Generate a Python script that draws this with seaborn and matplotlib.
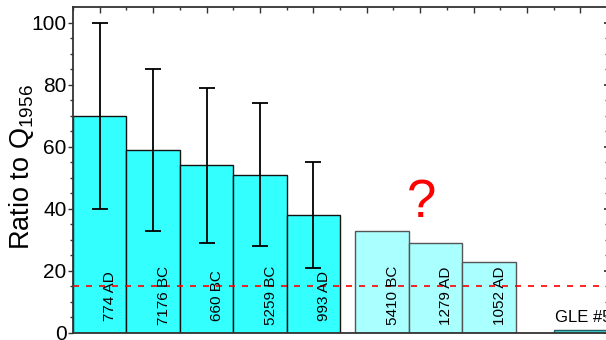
import matplotlib
matplotlib.use("Agg")
import matplotlib.pyplot as plt
import seaborn as sns
import pandas as pd

# ---- data ----
event_labels = ["774 AD", "7176 BC", "660 BC", "5259 BC", "993 AD",
                "5410 BC", "1279 AD", "1052 AD", "GLE #5"]
ratios = [70, 59, 54, 51, 38, 33, 29, 23, 1]
ratio_errors = [30, 26, 25, 23, 17, None, None, None, None]
groups = ["measured"] * 5 + ["candidate"] * 3 + ["gle"]
positions = [1, 2, 3, 4, 5, 6.29, 7.29, 8.29, 10]
threshold = 15

sns.set_theme(style="ticks", rc={"text.color": "black",
                                 "axes.labelcolor": "black",
                                 "xtick.color": "#222222",
                                 "ytick.color": "#222222"})
plt.rcParams["font.family"] = ["Liberation Sans", "DejaVu Sans"]
plt.rcParams["mathtext.fontset"] = "custom"
plt.rcParams["mathtext.rm"] = "Liberation Sans"
plt.rcParams["mathtext.it"] = "Liberation Sans"

df = pd.DataFrame({"pos": positions, "ratio": ratios, "label": event_labels,
                   "err": ratio_errors, "group": groups})

fig = plt.figure(figsize=(6.06, 3.40), dpi=100)
ax = fig.add_axes([73 / 606, 7 / 340, 534 / 606, 326 / 340])

styles = {
    "measured": dict(color="#33FFFF", edgecolor="#111111"),
    "candidate": dict(color="#AAFFFF", edgecolor="#555555"),
    "gle": dict(color="#40D8D8", edgecolor="#1F5F5F"),
}
for g, st in styles.items():
    sub = df[df["group"] == g]
    sns.barplot(data=sub, x="pos", y="ratio", native_scale=True, width=1.0,
                errorbar=None, saturation=1, linewidth=1.0, ax=ax, zorder=2,
                **st)

meas = df[df["group"] == "measured"]
ax.errorbar(meas["pos"], meas["ratio"], yerr=meas["err"].astype(float),
            fmt="none", ecolor="black", elinewidth=1.3, capsize=5.5,
            capthick=1.3, zorder=4)

ax.axhline(threshold, color="red", lw=1.2, dashes=(3.6, 4.2), zorder=3)

for _, r in df[df["group"] != "gle"].iterrows():
    ax.text(r["pos"] + 0.2, 12, r["label"], rotation=90, ha="center",
            va="center", fontsize=11, color="black", zorder=5)

gle = df[df["group"] == "gle"].iloc[0]
ax.text(gle["pos"] - 0.48, 3.5, gle["label"], ha="left", va="baseline",
        fontsize=12, color="black", zorder=5)

ax.text(7.02, 42, "?", color="red", fontsize=38, ha="center", va="center",
        zorder=5)

ax.set_xlim(0.5, 10.5)
ax.set_ylim(0, 105)
ax.set_xlabel("")
ax.set_ylabel("Ratio to Q$_{1956}$", fontsize=19.5, color="black")
ax.yaxis.set_label_coords((36 - 73) / 534, 0.51)

ax.set_yticks([0, 20, 40, 60, 80, 100])
ax.set_yticks(list(range(5, 105, 5)), minor=True)
ax.set_xticks(list(range(1, 11)))
ax.set_xticks([x + 0.5 for x in range(0, 11)], minor=True)

ax.tick_params(axis="x", which="both", bottom=False, top=True,
               labelbottom=False, labeltop=False, direction="in",
               color="#333333")
ax.tick_params(axis="x", which="major", length=4.5, width=1.0)
ax.tick_params(axis="x", which="minor", length=2.5, width=1.0)
ax.tick_params(axis="y", which="both", left=True, right=False,
               direction="out", color="#333333", labelsize=15, pad=1,
               labelcolor="black")
ax.tick_params(axis="y", which="major", length=3.6, width=1.0)
ax.tick_params(axis="y", which="minor", length=2.0, width=1.0)

sec = ax.secondary_yaxis("right")
sec.set_yticks([0, 20, 40, 60, 80, 100])
sec.set_yticks(list(range(5, 105, 5)), minor=True)
sec.tick_params(axis="y", which="both", direction="in", labelright=False,
                color="#333333")
sec.tick_params(axis="y", which="major", length=2.5)
sec.tick_params(axis="y", which="minor", length=1.5)

for name, sp in ax.spines.items():
    sp.set_visible(True)
    sp.set_color("#333333")
    sp.set_linewidth(1.3)

fig.savefig("out.png", dpi=100)
